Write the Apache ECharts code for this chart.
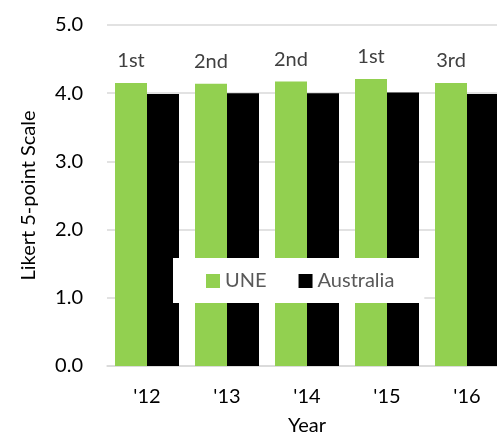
<!DOCTYPE html>
<html>
<head>
<meta charset="utf-8">
<script src="https://cdn.jsdelivr.net/npm/echarts@6/dist/echarts.min.js"></script>
<style>
html,body{margin:0;padding:0;background:#fff;}
#chart{width:497px;height:432px;}
</style>
</head>
<body>
<div id="chart"></div>
<script>
const categories = ["'12", "'13", "'14", "'15", "'16"];
const uneValues = [4.15, 4.14, 4.17, 4.21, 4.15];
const australiaValues = [3.99, 4.00, 4.00, 4.01, 3.99];
const rankLabels = ["1st", "2nd", "2nd", "1st", "3rd"];
const yTicks = [0, 5, 1];

const FONT = 'Lato';
const chart = echarts.init(document.getElementById('chart'), null, {renderer: 'canvas'});
chart.setOption({
  animation: false,
  textStyle: {fontFamily: FONT},
  grid: {left: 107, top: 25, width: 400, height: 341, outerBoundsMode: 'none', containLabel: false},
  legend: {
    left: 173, top: 258,
    backgroundColor: '#ffffff',
    padding: [13, 30, 12, 33],
    itemWidth: 14, itemHeight: 14, itemGap: 32,
    icon: 'rect',
    textStyle: {fontFamily: FONT, fontSize: 20, color: '#595959'},
    data: ['UNE', 'Australia']
  },
  xAxis: {
    type: 'category',
    data: categories,
    name: 'Year',
    nameLocation: 'middle',
    nameGap: 50,
    nameTextStyle: {fontFamily: FONT, fontSize: 20, color: '#000'},
    axisLine: {show: true, lineStyle: {color: '#d9d9d9', width: 1.5}},
    axisTick: {show: false},
    axisLabel: {fontFamily: FONT, fontSize: 20, color: '#000', margin: 21}
  },
  yAxis: {
    type: 'value',
    min: yTicks[0], max: yTicks[1], interval: yTicks[2],
    name: 'Likert 5-point Scale',
    nameLocation: 'middle',
    nameGap: 68,
    nameTextStyle: {fontFamily: FONT, fontSize: 20, color: '#000'},
    axisLine: {show: false},
    axisTick: {show: false},
    splitLine: {lineStyle: {color: '#d9d9d9', width: 1.5}},
    axisLabel: {fontFamily: FONT, fontSize: 20, color: '#000', margin: 24,
      formatter: v => v.toFixed(1)}
  },
  series: [
    {
      name: 'UNE', type: 'bar', data: uneValues,
      barGap: '0%', barCategoryGap: '20%',
      itemStyle: {color: '#92d050'},
      label: {show: true, position: 'top', distance: 12,
        fontFamily: FONT, fontSize: 20, color: '#404040',
        formatter: p => rankLabels[p.dataIndex]}
    },
    {
      name: 'Australia', type: 'bar', data: australiaValues,
      barGap: '0%', barCategoryGap: '20%',
      itemStyle: {color: '#000000'}
    }
  ]
});
</script>
</body>
</html>
